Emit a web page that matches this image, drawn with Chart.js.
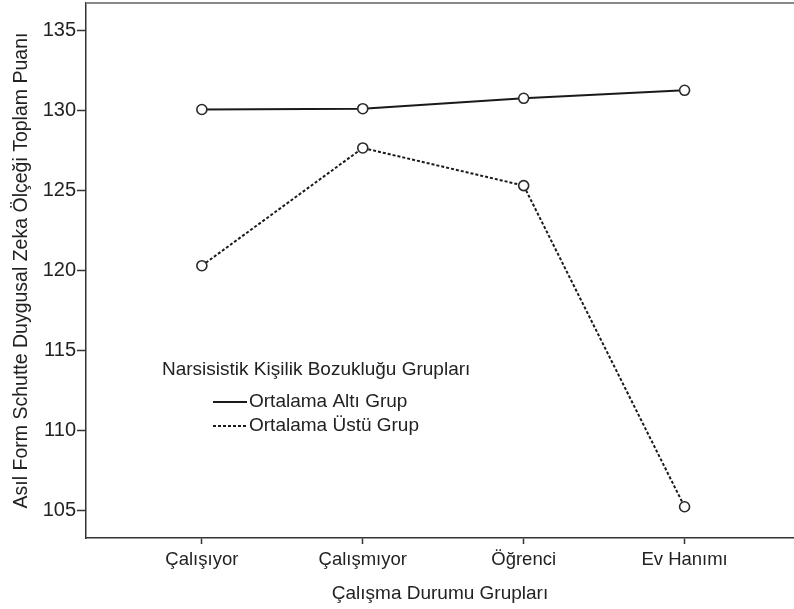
<!DOCTYPE html>
<html>
<head>
<meta charset="utf-8">
<script src="https://cdn.jsdelivr.net/npm/chart.js@4"></script>
<style>
  html, body { margin: 0; padding: 0; background: #fff; }
  canvas { display: block; }
</style>
</head>
<body>
<canvas id="grafik" width="794" height="609"></canvas>
<script>
// veriler
const gruplar = ["Çalışıyor", "Çalışmıyor", "Öğrenci", "Ev Hanımı"];
const ortalamaAlti = [130.05, 130.1, 130.75, 131.25];
const ortalamaUstu = [120.3, 127.65, 125.3, 105.25];
const yTikler = [105, 110, 115, 120, 125, 130, 135];
const seriAdlari = ["Ortalama Altı Grup", "Ortalama Üstü Grup"];
const legendBaslik = "Narsisistik Kişilik Bozukluğu Grupları";

const yazi = "'Liberation Sans', Arial, sans-serif";
const renk = "#222";

// x ekseni sayısal, etiketler gruplardan geliyor
function noktalar(dizi) {
  return dizi.map((v, i) => ({ x: i + 1, y: v }));
}

// legend ve üst çizgi
const cizimEklentisi = {
  id: "cerceve",
  afterDraw(chart) {
    const ctx = chart.ctx;
    const a = chart.chartArea;
    ctx.save();
    ctx.strokeStyle = "#888";
    ctx.lineWidth = 2;
    ctx.beginPath();
    ctx.moveTo(a.left, a.top);
    ctx.lineTo(a.right, a.top);
    ctx.stroke();

    ctx.fillStyle = renk;
    ctx.font = "19px " + yazi;
    ctx.textBaseline = "middle";
    ctx.fillText(legendBaslik, 162, 370);
    chart.data.datasets.forEach((ds, i) => {
      const y = 402 + i * 24;
      ctx.strokeStyle = ds.borderColor;
      ctx.lineWidth = 2;
      ctx.setLineDash(ds.borderDash || []);
      ctx.beginPath();
      ctx.moveTo(213, y);
      ctx.lineTo(247, y);
      ctx.stroke();
      ctx.setLineDash([]);
      ctx.fillText(ds.label, 249, y);
    });
    ctx.restore();
  }
};

new Chart(document.getElementById("grafik"), {
  type: "line",
  data: {
    datasets: [
      {
        label: seriAdlari[0],
        data: noktalar(ortalamaAlti),
        borderColor: "#1a1a1a",
        borderWidth: 2,
        pointRadius: 5,
        pointBorderWidth: 1.6,
        pointBackgroundColor: "#fff",
        pointBorderColor: "#2a2a2a",
        tension: 0,
      },
      {
        label: seriAdlari[1],
        data: noktalar(ortalamaUstu),
        borderColor: "#1a1a1a",
        borderWidth: 2,
        borderDash: [3, 2],
        pointRadius: 5,
        pointBorderWidth: 1.6,
        pointBackgroundColor: "#fff",
        pointBorderColor: "#2a2a2a",
        tension: 0,
      },
    ],
  },
  options: {
    responsive: false,
    animation: false,
    devicePixelRatio: 1,
    layout: { autoPadding: false, padding: { left: 0, right: 0, top: 3, bottom: 0 } },
    plugins: {
      legend: { display: false },
      tooltip: { enabled: false },
    },
    scales: {
      x: {
        type: "linear",
        min: 0.28,
        max: 4.68,
        afterBuildTicks: (s) => {
          s.ticks = gruplar.map((g, i) => ({ value: i + 1 }));
        },
        afterFit: (s) => {
          s.height = 71;
          s.paddingLeft = 0;
          s.paddingRight = 0;
        },
        grid: {
          drawOnChartArea: false,
          drawTicks: true,
          tickLength: 6,
          tickWidth: 1.5,
          color: "#333",
        },
        border: { display: true, color: "#333", width: 1.5 },
        ticks: {
          color: renk,
          font: { family: yazi, size: 18.5 },
          padding: 5,
          maxRotation: 0,
          callback: (v) => gruplar[v - 1] || "",
        },
        title: {
          display: true,
          text: "Çalışma Durumu Grupları",
          color: renk,
          font: { family: yazi, size: 19 },
          padding: { top: 2, bottom: 4 },
        },
      },
      y: {
        min: 103.3,
        max: 136.7,
        afterBuildTicks: (s) => {
          s.ticks = yTikler.map((v) => ({ value: v }));
        },
        afterFit: (s) => {
          s.width = 86;
          s.paddingTop = 0;
          s.paddingBottom = 0;
        },
        grid: {
          drawOnChartArea: false,
          drawTicks: true,
          tickLength: 9,
          tickWidth: 1.5,
          color: "#333",
        },
        border: { display: true, color: "#333", width: 1.5 },
        ticks: {
          color: renk,
          font: { family: yazi, size: 20 },
          padding: 1,
        },
        title: {
          display: true,
          text: "Asıl Form Schutte Duygusal Zeka Ölçeği Toplam Puanı",
          color: renk,
          font: { family: yazi, size: 19.5 },
          padding: { top: 10, bottom: 0 },
        },
      },
    },
  },
  plugins: [cizimEklentisi],
});
</script>
</body>
</html>
